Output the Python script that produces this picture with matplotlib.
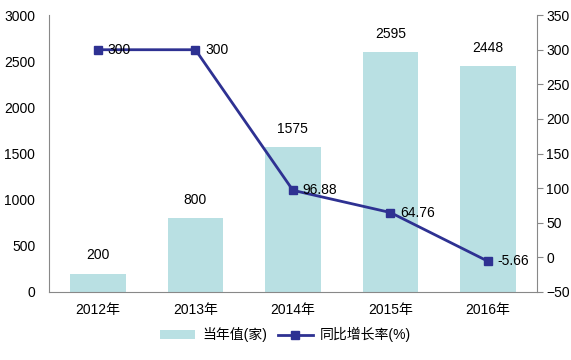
import matplotlib.pyplot as plt

plt.rcParams['font.family'] = ['Liberation Sans', 'Noto Sans CJK SC', 'DejaVu Sans']
plt.rcParams['font.size'] = 10

years = ['2012年', '2013年', '2014年', '2015年', '2016年']
counts = [200, 800, 1575, 2595, 2448]
growth = [300, 300, 96.88, 64.76, -5.66]
growth_labels = ['300', '300', '96.88', '64.76', '-5.66']

bar_color = '#b9e0e3'
line_color = '#2e3192'
spine_color = '#888888'

fig = plt.figure(figsize=(5.71, 3.6), dpi=100)
ax = fig.add_axes([0.086, 0.189, 0.854, 0.769])
x = list(range(len(years)))

b = ax.bar(x, counts, width=0.57, color=bar_color, label='当年值(家)')
for xi, v in zip(x, counts):
    ax.text(xi, v + 120, str(v), ha='center', va='bottom', fontsize=10)

ax.set_xlim(-0.5, len(years) - 0.5)
ax.set_ylim(0, 3000)
ax.set_yticks(range(0, 3001, 500))
ax.set_xticks(x)
ax.set_xticklabels(years)
ax.tick_params(axis='x', length=0, pad=8)
ax.tick_params(axis='y', length=0, pad=10)
for s in ['top', 'right']:
    ax.spines[s].set_visible(False)
for s in ['left', 'bottom']:
    ax.spines[s].set_color(spine_color)

ax2 = ax.twinx()
ln, = ax2.plot(x, growth, color=line_color, lw=2, marker='s', ms=6,
               label='同比增长率(%)')
for xi, v, t in zip(x, growth, growth_labels):
    ax2.text(xi + 0.1, v, t, ha='left', va='center', fontsize=10)
ax2.set_ylim(-50, 350)
ax2.set_yticks(range(-50, 351, 50))
ax2.tick_params(axis='y', length=4, color=spine_color, pad=3)
for s in ['top', 'left', 'bottom']:
    ax2.spines[s].set_visible(False)
ax2.spines['right'].set_color(spine_color)

fig.legend([b, ln], ['当年值(家)', '同比增长率(%)'], loc='center',
           bbox_to_anchor=(0.5, 0.07), ncol=2, frameon=False,
           handlelength=2.5, columnspacing=0.8, handletextpad=0.5, fontsize=10)

fig.savefig('out.png', dpi=100)
